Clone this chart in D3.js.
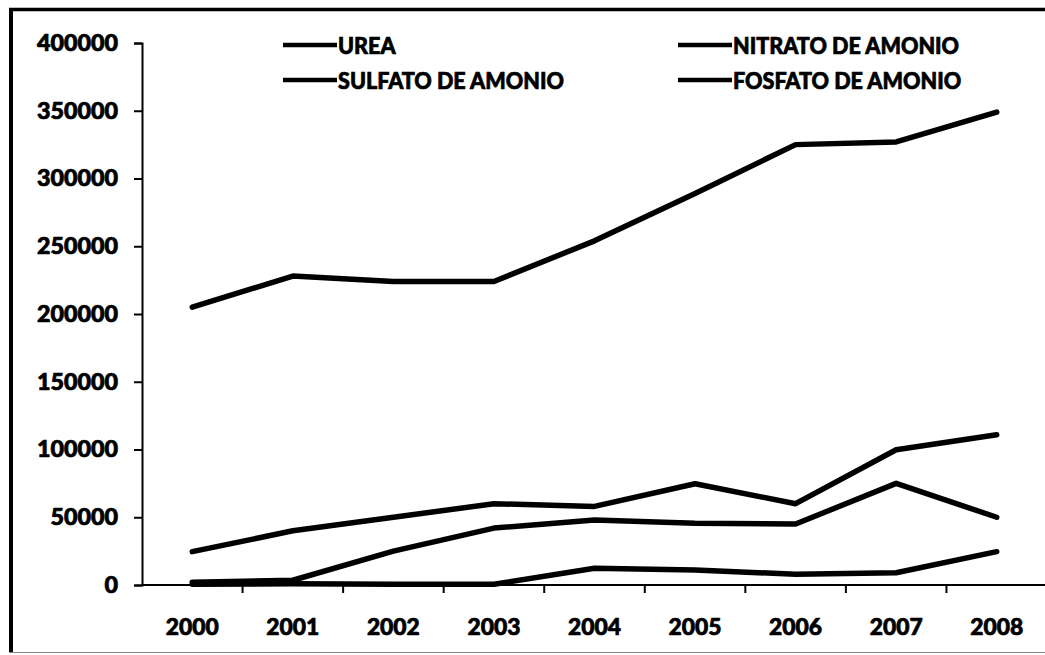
<!DOCTYPE html>
<html>
<head>
<meta charset="utf-8">
<script src="https://cdn.jsdelivr.net/npm/d3@7"></script>
<style>
  html, body { margin: 0; padding: 0; background: #fff; }
  svg { display: block; }
  text { font-family: Lato, "Open Sans", sans-serif; font-weight: 900; fill: #000; stroke: #000; stroke-width: 0.7px; }
</style>
</head>
<body>
<svg id="chart" width="1045" height="655"></svg>
<script>
// Fertilizer volumes per year
const years = ["2000", "2001", "2002", "2003", "2004", "2005", "2006", "2007", "2008"];
const urea = [205000, 228000, 224000, 224000, 254000, 289000, 325000, 327000, 349000];
const nitratoAmonio = [24600, 40000, 50000, 60000, 58000, 74700, 60000, 99800, 110900];
const sulfatoAmonio = [2000, 3500, 25000, 42000, 48000, 45600, 45000, 75000, 50000];
const fosfatoAmonio = [500, 1000, 500, 500, 12300, 11000, 8000, 9000, 24600];
const seriesNames = ["UREA", "NITRATO DE AMONIO", "SULFATO DE AMONIO", "FOSFATO DE AMONIO"];
const seriesValues = [urea, nitratoAmonio, sulfatoAmonio, fosfatoAmonio];
const yTicks = [0, 50000, 100000, 150000, 200000, 250000, 300000, 350000, 400000];

const svg = d3.select("#chart");

// outer frame (left, top, bottom edges)
svg.append("line").attr("x1", 11).attr("x2", 11).attr("y1", 8).attr("y2", 653)
  .attr("stroke", "#000").attr("stroke-width", 4);
svg.append("line").attr("x1", 9).attr("x2", 1045).attr("y1", 9.5).attr("y2", 9.5)
  .attr("stroke", "#000").attr("stroke-width", 3.5);
svg.append("line").attr("x1", 9).attr("x2", 1045).attr("y1", 652.5).attr("y2", 652.5)
  .attr("stroke", "#888").attr("stroke-width", 1.2);

const x = d3.scaleBand().domain(years).range([142, 1047]).padding(0);
const y = d3.scaleLinear().domain([0, 400000]).range([585, 43]);

// y axis
const yAxis = svg.append("g").attr("transform", "translate(142,0)")
  .call(d3.axisLeft(y).tickValues(yTicks).tickFormat(d3.format("d")).tickSizeOuter(0).tickSize(8).tickPadding(16));
yAxis.select(".domain").attr("stroke", "#000").attr("stroke-width", 2);
yAxis.selectAll(".tick line").attr("stroke", "#000").attr("stroke-width", 2);
yAxis.selectAll(".tick text").attr("font-size", 22).attr("font-family", "Lato, sans-serif")
  .attr("font-weight", 900).attr("fill", "#000").attr("dy", "0.34em");

// x axis with ticks on band boundaries
const xAxisG = svg.append("g").attr("transform", "translate(0,585)");
xAxisG.append("line").attr("x1", 142).attr("x2", 1047).attr("y1", 0).attr("y2", 0)
  .attr("stroke", "#000").attr("stroke-width", 2);
xAxisG.selectAll("line.tk").data(years.slice(1)).join("line").attr("class", "tk")
  .attr("x1", d => x(d)).attr("x2", d => x(d)).attr("y1", 0).attr("y2", 8)
  .attr("stroke", "#000").attr("stroke-width", 2);
xAxisG.selectAll("text").data(years).join("text")
  .attr("x", d => x(d) + x.bandwidth() / 2).attr("y", 50)
  .attr("text-anchor", "middle").attr("font-size", 23).text(d => d);

// series lines
const line = d3.line().x((d, i) => x(years[i]) + x.bandwidth() / 2).y(d => y(d));
svg.append("g").selectAll("path").data(seriesValues).join("path")
  .attr("d", line).attr("fill", "none").attr("stroke", "#000")
  .attr("stroke-width", 5.5).attr("stroke-linejoin", "round").attr("stroke-linecap", "round");

// legend
const legendPos = [[283, 45], [678, 45], [283, 80], [678, 80]];
const lg = svg.append("g");
seriesNames.forEach((name, i) => {
  const [lx, ly] = legendPos[i];
  lg.append("line").attr("x1", lx).attr("x2", lx + 54).attr("y1", ly).attr("y2", ly)
    .attr("stroke", "#000").attr("stroke-width", 4.5);
  lg.append("text").attr("class", "lgt").attr("x", lx + 55).attr("y", ly + 8.5)
    .attr("font-size", 23).text(name);
});

// horizontal fit of the bold labels
function stretch(sel, factor) {
  sel.each(function () {
    const t = d3.select(this);
    const w = this.getComputedTextLength();
    t.attr("textLength", w * factor).attr("lengthAdjust", "spacingAndGlyphs");
  });
}
const probe = lg.selectAll("text.lgt").filter((d, i) => i === 2).node();
const legFactor = 226 / probe.getComputedTextLength();
stretch(lg.selectAll("text.lgt"), legFactor);
const yProbe = yAxis.selectAll(".tick text").filter(d => d === 400000).node();
const numFactor = 81 / yProbe.getComputedTextLength();
stretch(yAxis.selectAll(".tick text"), numFactor);
const xProbe = xAxisG.selectAll("text").filter(d => d === "2000").node();
stretch(xAxisG.selectAll("text"), 53 / xProbe.getComputedTextLength());
</script>
</body>
</html>
